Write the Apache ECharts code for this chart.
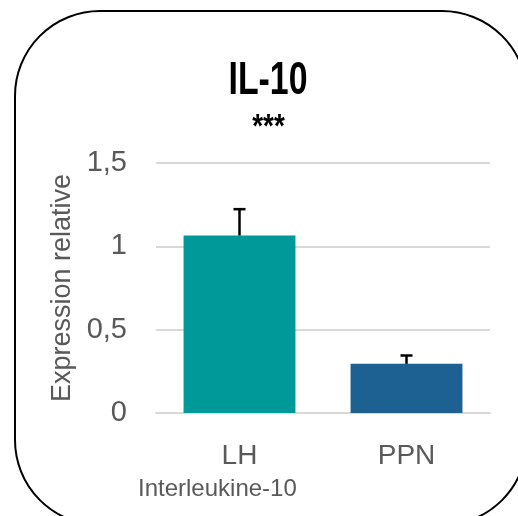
<!DOCTYPE html>
<html>
<head>
<meta charset="utf-8">
<script src="https://cdn.jsdelivr.net/npm/echarts@6/dist/echarts.min.js"></script>
<style>
html,body{margin:0;padding:0;background:#fff;}
#c{width:518px;height:516px;}
</style>
</head>
<body>
<div id="c"></div>
<script>
var categories = ['LH', 'PPN'];
var values = [1.065, 0.295];
var errors = [0.158, 0.05];
var barColors = ['#009999', '#1D6193'];
var yTicks = [0, 0.5, 1, 1.5];
var titleText = 'IL-10';
var signifText = '***';
var yName = 'Expression relative';
var footText = 'Interleukine-10';

var FONT = "'Liberation Sans', Arial, sans-serif";
var chart = echarts.init(document.getElementById('c'), null, {renderer: 'canvas'});

var option = {
  animation: false,
  backgroundColor: '#fff',
  graphic: [
    {type: 'rect', shape: {x: 15, y: 11, width: 512, height: 514, r: 85},
     style: {fill: 'none', stroke: '#000', lineWidth: 2}, z: 100},
    {type: 'text', x: 268, y: 81, scaleX: 0.72,
     style: {text: titleText, x: 0, y: 0, align: 'center', verticalAlign: 'middle',
       fontFamily: FONT, fontSize: 47, fontWeight: 'bold', fill: '#000'}},
    {type: 'text', x: 268.5, y: 128, scaleX: 0.82,
     style: {text: signifText, x: 0, y: 0, align: 'center', verticalAlign: 'middle',
       fontFamily: FONT, fontSize: 34, fontWeight: 'bold', fill: '#000'}},
    {type: 'text', left: 138, top: 477,
     style: {text: footText, fontFamily: FONT, fontSize: 24, fill: '#595959'}}
  ],
  grid: {left: 156, right: 28, top: 163, bottom: 103},
  xAxis: {
    type: 'category', data: categories,
    axisLine: {show: true, lineStyle: {color: '#D9D9D9', width: 2}},
    axisTick: {show: false},
    axisLabel: {fontFamily: FONT, fontSize: 28, color: '#595959', margin: 29}
  },
  yAxis: {
    type: 'value', min: 0, max: 1.5, interval: 0.5,
    name: yName, nameLocation: 'middle', nameGap: 73, nameRotate: 90,
    nameTextStyle: {fontFamily: FONT, fontSize: 27, color: '#595959'},
    axisLine: {show: false}, axisTick: {show: false},
    splitLine: {lineStyle: {color: '#D9D9D9', width: 2}},
    axisLabel: {fontFamily: FONT, fontSize: 29, color: '#595959', margin: 29,
      formatter: function (v) { return String(v).replace('.', ','); }}
  },
  series: [
    {type: 'bar', barWidth: '67%',
     data: values.map(function (v, i) { return {value: v, itemStyle: {color: barColors[i]}}; })},
    {type: 'custom', z: 10,
     data: values.map(function (v, i) { return [i, v, v + errors[i]]; }),
     renderItem: function (params, api) {
       var p0 = api.coord([api.value(0), api.value(1)]);
       var p1 = api.coord([api.value(0), api.value(2)]);
       var hw = 6;
       return {type: 'group', children: [
         {type: 'line', shape: {x1: p0[0], y1: p0[1], x2: p1[0], y2: p1[1]}, style: {stroke: '#000', lineWidth: 2.5}},
         {type: 'line', shape: {x1: p1[0] - hw, y1: p1[1], x2: p1[0] + hw, y2: p1[1]}, style: {stroke: '#000', lineWidth: 2.5}}
       ]};
     }}
  ]
};
chart.setOption(option);
</script>
</body>
</html>
